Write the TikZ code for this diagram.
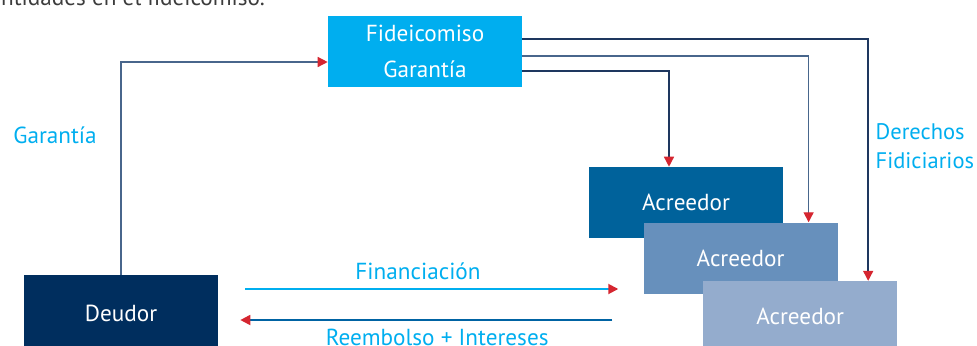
\documentclass[tikz,border=0pt]{standalone}
\usepackage{fontspec}
\setmainfont{PT Sans}
\usepackage{xcolor}
\usepackage{tikz}
\usetikzlibrary{positioning}
\usetikzlibrary{arrows.meta}
\definecolor{cyanfide}{RGB}{0,174,239}
\definecolor{navydeudor}{RGB}{0,46,94}
\definecolor{acreedorA}{RGB}{0,98,155}
\definecolor{acreedorB}{RGB}{103,144,188}
\definecolor{acreedorC}{RGB}{148,172,205}
\definecolor{arrowred}{RGB}{213,38,48}
\definecolor{linedark}{RGB}{30,55,95}
\definecolor{linesteel}{RGB}{72,102,140}
\definecolor{reemblue}{RGB}{0,99,163}
\definecolor{textgray}{RGB}{60,60,60}
\tikzset{%
  every box/.style={
    draw=none,
    text=white,
    minimum width=4.85cm,
    minimum height=1.775cm,
    font=\fontsize{16.5}{26}\selectfont,
    align=center,
    inner sep=0pt
  },
  flow label/.style={
    text=cyanfide,
    font=\fontsize{16.5}{20.5}\selectfont,
    inner sep=2pt
  },
}

\begin{document}
\begin{tikzpicture}[x=0.025cm,y=-0.025cm]
      \tikzstyle{line} = [draw, -{Triangle[color=arrowred,length=0.25cm,width=0.25cm]}, line width=1pt]
      \useasboundingbox (0,0) rectangle (977,345);

      % Text above the picture
      \node[text=textgray,font=\fontsize{16.5}{20}\selectfont,anchor=base west,inner sep=0pt] (Intro) at (-11,5) {entidades en el fideicomiso.};

      % Fideicomiso
      \def\fide{Fideicomiso}
      \node[every box,fill=cyanfide] (\fide) at (425,51.5) {\fide{}\\Garantía};

      % Deudor
      \def\deudor{Deudor}
      \node[every box,fill=navydeudor,minimum height=1.9cm] (\deudor) at (121,313) {\deudor{}};

      % Acreedores
      \def\acreedor{Acreedor}
      \node[every box,fill=acreedorA] (AcreedorA) at (686,202.5) {\acreedor{}};
      \node[every box,fill=acreedorB,below right=-0.4cm and -3.5cm of AcreedorA] (AcreedorB) {\acreedor{}};
      \node[every box,fill=acreedorC,below right=-0.325cm and -3.375cm of AcreedorB] (AcreedorC) {\acreedor{}};

      % Labels
      \node[flow label] (Garantia) at (55,135) {Garantía};
      \node[flow label,align=left,anchor=west,inner sep=1pt,font=\fontsize{16}{20.5}\selectfont] (Derechos) at (874,146) {Derechos\\Fidiciarios};

      % \deudor -> \fide
      \path[line,draw=linesteel] (\deudor.north) |- ([yshift=-0.2625cm]\fide.west);

      % \fide -> Acreedores
      \path[line,draw=linedark] ([yshift=-0.4875cm]\fide.east) -| ([xshift=-0.425cm]AcreedorA.north);
      \path[line,draw=linesteel] ([yshift=-0.1125cm]\fide.east) -| ([xshift=1.7cm]AcreedorB.north);
      \path[line,draw=linedark] ([yshift=0.3125cm]\fide.east) -| ([xshift=1.7cm]AcreedorC.north);

      % \deudor <-> Acreedores
      \path[line,draw=cyanfide,line width=1.3pt,shorten <=0.675cm,shorten >=0.625cm]
        ([yshift=0.6cm]\deudor.east) -- node[flow label,above=4pt,pos=0.47] {Financiación} ([yshift=0.6cm]\deudor.east -| AcreedorB.west);
      \path[line,draw=reemblue,line width=1.3pt,shorten <=0.775cm,shorten >=0.55cm]
        ([yshift=-0.175cm]\deudor.east -| AcreedorB.west) -- node[flow label,below=4pt,pos=0.485] {Reembolso + Intereses} ([yshift=-0.175cm]\deudor.east);
    \end{tikzpicture}
\end{document}
